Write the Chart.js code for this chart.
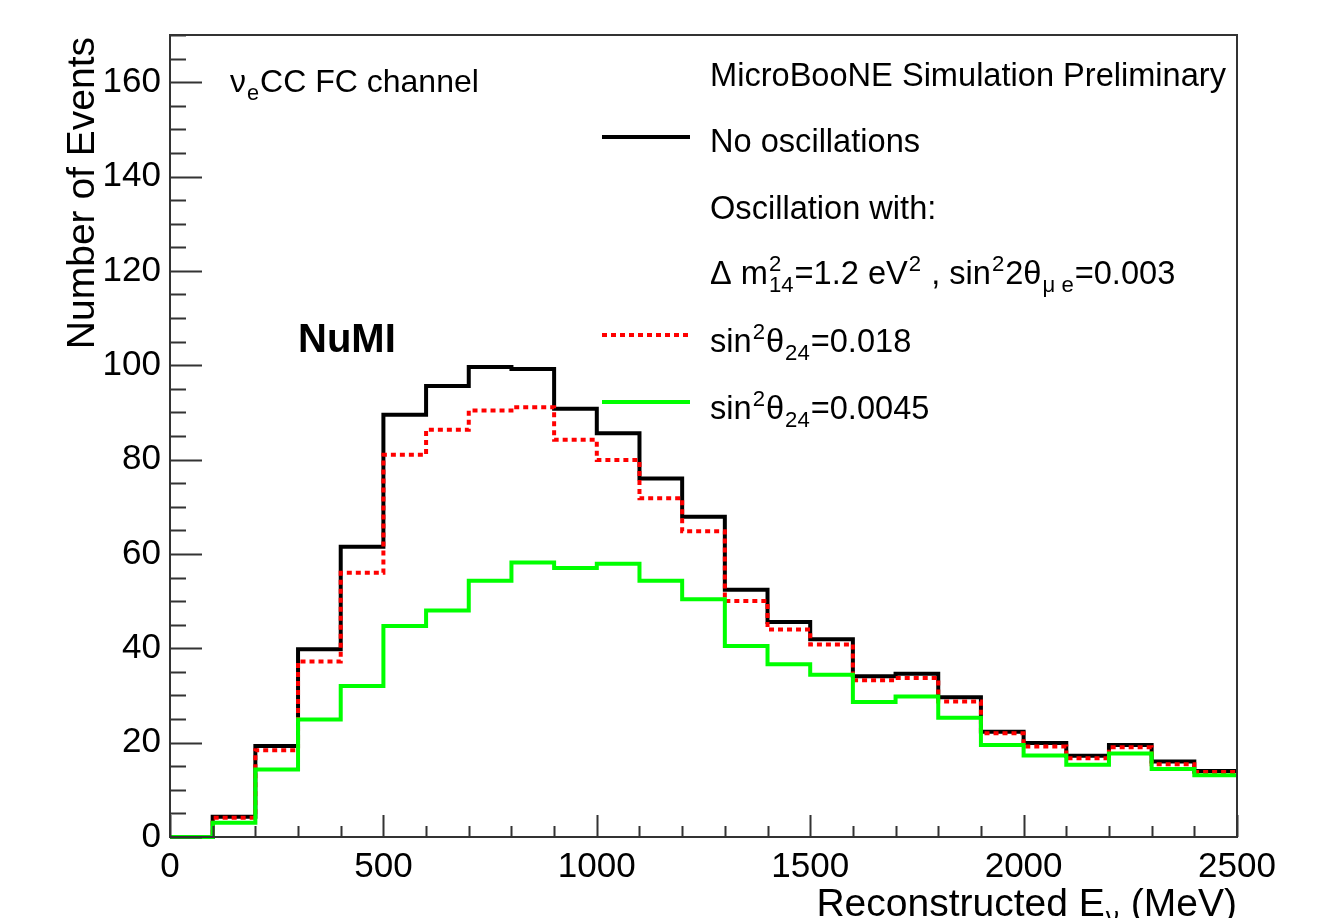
<!DOCTYPE html>
<html>
<head>
<meta charset="utf-8">
<script src="https://cdn.jsdelivr.net/npm/chart.js@4.4.1/dist/chart.umd.min.js"></script>
<style>
  html, body { margin: 0; padding: 0; background: #fff; }
  canvas { display: block; }
</style>
</head>
<body>
<canvas id="c" width="1337" height="918"></canvas>
<script>
// bins of reconstructed neutrino energy (MeV), lower edges + last upper edge
const binLow = [0, 100, 200, 300, 400, 500, 600, 700, 800, 900, 1000, 1100, 1200,
                1300, 1400, 1500, 1600, 1700, 1800, 1900, 2000, 2100, 2200, 2300, 2400];
const binHigh = 2500;

// events per bin
const noOsc   = [0, 4.3, 19.3, 39.8, 61.5, 89.5, 95.6, 99.6, 99.2, 90.8, 85.6, 76.0, 67.9,
                 52.4, 45.6, 41.9, 34.1, 34.6, 29.6, 22.3, 19.9, 17.2, 19.5, 16.0, 14.0];
const osc018  = [0, 4.1, 18.4, 37.2, 56.0, 81.0, 86.3, 90.4, 91.1, 84.2, 79.9, 71.8, 64.8,
                 50.0, 44.0, 40.8, 33.2, 33.7, 28.7, 22.0, 19.2, 16.7, 19.0, 15.4, 13.8];
const osc0045 = [0, 3.0, 14.3, 24.9, 32.0, 44.7, 48.0, 54.3, 58.2, 57.0, 57.9, 54.3, 50.4,
                 40.5, 36.6, 34.4, 28.6, 29.8, 25.3, 19.5, 17.3, 15.3, 17.7, 14.4, 13.1];

const xTickLabels = [0, 500, 1000, 1500, 2000, 2500];
const yTickLabels = [0, 20, 40, 60, 80, 100, 120, 140, 160];

const FONT = '"Liberation Sans", Arial, Helvetica, sans-serif';

// histogram outline: value held from each lower edge to the next one
function histPoints(vals) {
    const pts = binLow.map((x, i) => ({ x: x, y: vals[i] }));
    pts.push({ x: binHigh, y: vals[vals.length - 1] });
    return pts;
}

// text with sub/superscripts, ROOT style
function richText(ctx, x, y, parts, size, weight, draw) {
    let cx = x;
    const small = size * 0.68;
    for (const p of parts) {
        if (typeof p === 'string') {
            ctx.font = `${weight} ${size}px ${FONT}`;
            if (draw) ctx.fillText(p, cx, y);
            cx += ctx.measureText(p).width;
        } else {
            ctx.font = `${weight} ${small}px ${FONT}`;
            let w = 0;
            if (p.sup) {
                if (draw) ctx.fillText(p.sup, cx + 1, y - size * 0.40);
                w = Math.max(w, ctx.measureText(p.sup).width);
            }
            if (p.sub) {
                if (draw) ctx.fillText(p.sub, cx + 1, y + size * 0.24);
                w = Math.max(w, ctx.measureText(p.sub).width);
            }
            cx += w + 2;
        }
    }
    return cx - x;
}

const rootDecor = {
    id: 'rootDecor',
    afterDraw(chart) {
        const ctx = chart.ctx;
        const a = chart.chartArea;
        const xs = chart.scales.x, ys = chart.scales.y;
        ctx.save();

        // frame
        ctx.strokeStyle = '#333';
        ctx.lineWidth = 2;
        ctx.strokeRect(a.left, a.top, a.right - a.left, a.bottom - a.top);

        // inside ticks
        ctx.beginPath();
        for (let v = 0; v <= 170; v += 5) {
            const py = Math.round(ys.getPixelForValue(v)) + 0.5;
            const len = v % 20 === 0 ? 32 : 16;
            ctx.moveTo(a.left, py);
            ctx.lineTo(a.left + len, py);
        }
        for (let v = 0; v <= 2500; v += 100) {
            const px = Math.round(xs.getPixelForValue(v)) + 0.5;
            const len = v % 500 === 0 ? 22 : 11;
            ctx.moveTo(px, a.bottom);
            ctx.lineTo(px, a.bottom - len);
        }
        ctx.stroke();

        ctx.fillStyle = '#000';
        ctx.textAlign = 'left';
        ctx.textBaseline = 'alphabetic';

        // axis titles
        const xt = ['Reconstructed E', { sub: '\u03BD' }, ' (MeV)'];
        const xw = richText(ctx, 0, 0, xt, 39, 'normal', false);
        richText(ctx, a.right - xw, 916, xt, 39, 'normal', true);

        ctx.save();
        ctx.translate(94, a.top + 2);
        ctx.rotate(-Math.PI / 2);
        ctx.font = `39px ${FONT}`;
        ctx.textAlign = 'right';
        ctx.fillText('Number of Events', 0, 0);
        ctx.restore();

        // labels inside the frame
        richText(ctx, 230, 92, ['\u03BD', { sub: 'e' }, 'CC FC channel'], 32, 'normal', true);
        richText(ctx, 298, 352, ['NuMI'], 40, 'bold', true);

        // legend
        const tx = 710, fs = 32.6;
        richText(ctx, tx, 86, ['MicroBooNE Simulation Preliminary'], fs, 'normal', true);
        richText(ctx, tx, 152, ['No oscillations'], fs, 'normal', true);
        richText(ctx, tx, 219, ['Oscillation with:'], fs, 'normal', true);
        richText(ctx, tx, 284, ['\u0394 m', { sup: '2', sub: '14' }, '=1.2 eV', { sup: '2' },
            ' , sin', { sup: '2' }, '2\u03B8', { sub: '\u03BC e' }, '=0.003'], fs, 'normal', true);
        richText(ctx, tx, 352, ['sin', { sup: '2' }, '\u03B8', { sub: '24' }, '=0.018'], fs, 'normal', true);
        richText(ctx, tx, 419, ['sin', { sup: '2' }, '\u03B8', { sub: '24' }, '=0.0045'], fs, 'normal', true);

        const rows = [[0, 137], [1, 335], [2, 402]];
        for (const [i, ly] of rows) {
            const ds = chart.data.datasets[i];
            ctx.strokeStyle = ds.borderColor;
            ctx.lineWidth = ds.borderWidth;
            ctx.setLineDash(ds.borderDash || []);
            ctx.beginPath();
            ctx.moveTo(602, ly);
            ctx.lineTo(690, ly);
            ctx.stroke();
        }
        ctx.setLineDash([]);
        ctx.restore();
    }
};

new Chart(document.getElementById('c'), {
    type: 'line',
    data: {
        datasets: [
            {
                label: 'No oscillations',
                data: histPoints(noOsc),
                borderColor: '#000000',
                borderWidth: 4,
                clip: 3,
                order: 2
            },
            {
                label: 'sin2theta24=0.018',
                data: histPoints(osc018),
                borderColor: '#ff0000',
                borderWidth: 4,
                borderDash: [5, 4],
                clip: 3,
                order: 1
            },
            {
                label: 'sin2theta24=0.0045',
                data: histPoints(osc0045),
                borderColor: '#00ff00',
                borderWidth: 4,
                clip: 3,
                order: 0
            }
        ]
    },
    options: {
        responsive: false,
        animation: false,
        devicePixelRatio: 1,
        layout: { padding: { left: 0, right: 100, top: 35, bottom: 0 } },
        elements: {
            point: { radius: 0, hoverRadius: 0 },
            line: { stepped: 'before', fill: false, tension: 0, borderCapStyle: 'butt' }
        },
        plugins: {
            legend: { display: false },
            tooltip: { enabled: false }
        },
        scales: {
            x: {
                type: 'linear',
                min: 0,
                max: binHigh,
                afterFit: s => { s.height = 81; },
                afterBuildTicks: s => { s.ticks = xTickLabels.map(v => ({ value: v })); },
                grid: { display: false, drawTicks: false },
                border: { display: false },
                ticks: {
                    padding: 9,
                    maxRotation: 0,
                    autoSkip: false,
                    color: '#000',
                    font: { family: FONT, size: 35 },
                    callback: v => String(v)
                }
            },
            y: {
                type: 'linear',
                min: 0,
                max: 170,
                afterFit: s => { s.width = 170; },
                afterBuildTicks: s => { s.ticks = yTickLabels.map(v => ({ value: v })); },
                grid: { display: false, drawTicks: false },
                border: { display: false },
                ticks: {
                    padding: 9,
                    autoSkip: false,
                    color: '#000',
                    font: { family: FONT, size: 35 },
                    callback: v => String(v)
                }
            }
        }
    },
    plugins: [rootDecor]
});
</script>
</body>
</html>
